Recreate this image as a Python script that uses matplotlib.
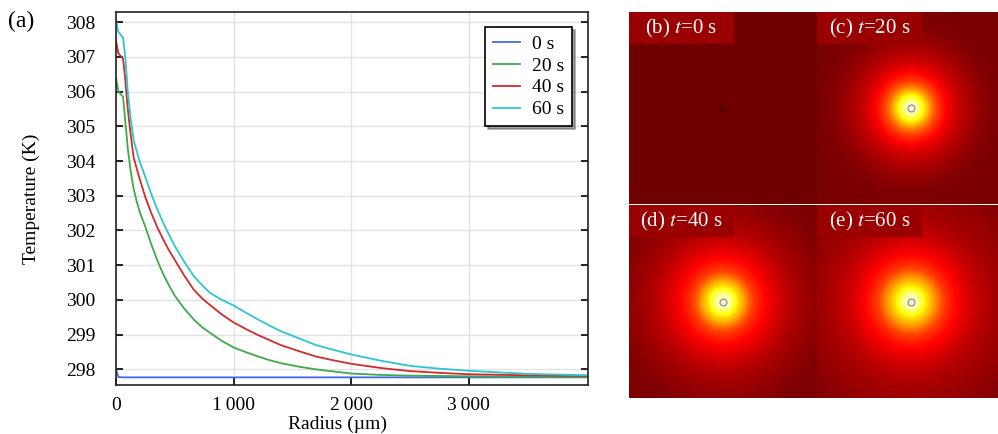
import numpy as np
import matplotlib
matplotlib.use("Agg")
import matplotlib.pyplot as plt
from matplotlib.colors import LinearSegmentedColormap, Normalize
from matplotlib.patches import Rectangle

plt.rcParams['font.family'] = ['Liberation Serif', 'DejaVu Serif']
plt.rcParams['mathtext.fontset'] = 'stix'

# radial temperature profiles
radius = [0, 20, 60, 80, 100, 125, 150, 175, 200, 250, 300, 350, 400, 450, 500, 580, 660,
          730, 800, 900, 1000, 1100, 1200, 1300, 1400, 1550, 1700, 1850, 2000, 2250, 2500,
          2750, 3000, 3500, 4010]
temp_0s = [298.0, 297.78] + [297.77] * 33
temp_20s = [306.4, 306.0, 305.85, 305.1, 304.37, 303.7, 303.2, 302.85, 302.55, 302.1, 301.6,
            301.15, 300.75, 300.42, 300.12, 299.75, 299.44, 299.22, 299.05, 298.82, 298.63,
            298.5, 298.38, 298.27, 298.18, 298.08, 298.0, 297.94, 297.88, 297.84, 297.82,
            297.81, 297.8, 297.79, 297.78]
temp_40s = [307.47, 307.1, 306.95, 306.3, 305.5, 304.75, 304.1, 303.8, 303.5, 302.95, 302.5,
            302.1, 301.75, 301.43, 301.15, 300.7, 300.3, 300.05, 299.85, 299.58, 299.35,
            299.17, 299.0, 298.85, 298.7, 298.53, 298.37, 298.26, 298.16, 298.04, 297.95,
            297.9, 297.86, 297.83, 297.81]
temp_60s = [308.04, 307.72, 307.55, 306.95, 306.0, 305.2, 304.6, 304.3, 304.0, 303.53, 303.05,
            302.62, 302.23, 301.88, 301.55, 301.1, 300.69, 300.43, 300.2, 300.0, 299.84,
            299.64, 299.45, 299.27, 299.1, 298.9, 298.7, 298.56, 298.43, 298.25, 298.1,
            298.02, 297.96, 297.87, 297.83]

labels = ["0 s", "20 s", "40 s", "60 s"]
colors = ['#4169e1', '#3cab48', '#d42a2a', '#2cc6d2']
profiles = [temp_0s, temp_20s, temp_40s, temp_60s]

panel_tags = ["(b)", "(c)", "(d)", "(e)"]
panel_times = ["0", "20", "40", "60"]

fig = plt.figure(figsize=(9.98, 4.34), dpi=100)

# (a) line chart
ax = fig.add_axes([116/998, 49/434, 471.7/998, 373.3/434])
for T, lab, c in zip(profiles, labels, colors):
    ax.plot(radius, T, color=c, lw=1.3, label=lab)
ax.set_xlim(0, 4010)
ax.set_ylim(297.55, 308.3)
ax.set_xticks([0, 1000, 2000, 3000])
ax.set_xticklabels(["0", "1\u2009000", "2\u2009000", "3\u2009000"])
ax.set_yticks(range(298, 309))
ax.grid(True, color='#e2e2e2', lw=1)
ax.set_axisbelow(True)
ax.tick_params(direction='in', right=True, length=5, width=1.2, labelsize=14)
ax.tick_params(axis='y', pad=15)
ax.tick_params(axis='x', pad=9)
for s in ax.spines.values():
    s.set_linewidth(1.2)
    s.set_color('#222222')
ax.set_xlabel("Radius (µm)", fontsize=14)
ax.set_ylabel("Temperature (K)", fontsize=14)
ax.xaxis.set_label_coords(0.47, -0.083)
ax.yaxis.set_label_coords(-0.161, 0.5)
leg = ax.legend(loc='upper right', fontsize=14, frameon=True, fancybox=False, shadow=True,
                edgecolor='black', framealpha=1, borderaxespad=0.8, handlelength=1.4,
                handletextpad=0.6, labelspacing=0.22)
leg.get_frame().set_linewidth(1.2)
fig.text(0.008, 0.95, "(a)", fontsize=17, va='center')

# (b)-(e) temperature maps built from the same profiles
cmap = LinearSegmentedColormap.from_list('thermal', [
    (0.0, '#700000'), (0.15, '#800000'), (0.3, '#c80000'), (0.4, '#ff0000'),
    (0.5, '#ff4000'), (0.6, '#ffb000'), (0.7, '#ffff00'), (1.0, '#ffffd0')])
L = 900
g = np.linspace(-L, L, 301)
xx, yy = np.meshgrid(g, g)
rr = np.sqrt(xx**2 + yy**2)

rects = [[629/998, 230/434, 188/998, 192/434],
         [817/998, 230/434, 188/998, 192/434],
         [629/998, 36/434, 188/998, 193/434],
         [817/998, 36/434, 188/998, 193/434]]
for i, T in enumerate(profiles):
    pax = fig.add_axes(rects[i])
    field = np.interp(rr, radius, T)
    vmin = min(T)
    vmax = max(T) if i > 0 else max(temp_60s)
    pax.imshow(field, cmap=cmap, norm=Normalize(vmin, vmax), extent=[-L, L, -L, L],
               aspect='auto', interpolation='bilinear')
    if i == 0:
        pax.plot(0, 0, 'o', ms=4, mfc='#6a0000', mec='#3a0000', mew=0.8)
    else:
        pax.plot(0, 0, 'o', ms=5, mfc='#f0f0e0', mec='#888888', mew=0.8)
    pax.set_xlim(-L, L)
    pax.set_ylim(-L, L)
    pax.axis('off')
    bw, bh = 105/188, 32/192
    pax.add_patch(Rectangle((0, 1 - bh), bw, bh, transform=pax.transAxes,
                            fc='#9a0000', ec='none', zorder=3))
    pax.text(bw / 2, 1 - bh / 2, panel_tags[i] + " $t$=" + panel_times[i] + " s",
             transform=pax.transAxes, ha='center', va='center', color='white',
             fontsize=15, zorder=4)

fig.savefig("out.png", dpi=100)
